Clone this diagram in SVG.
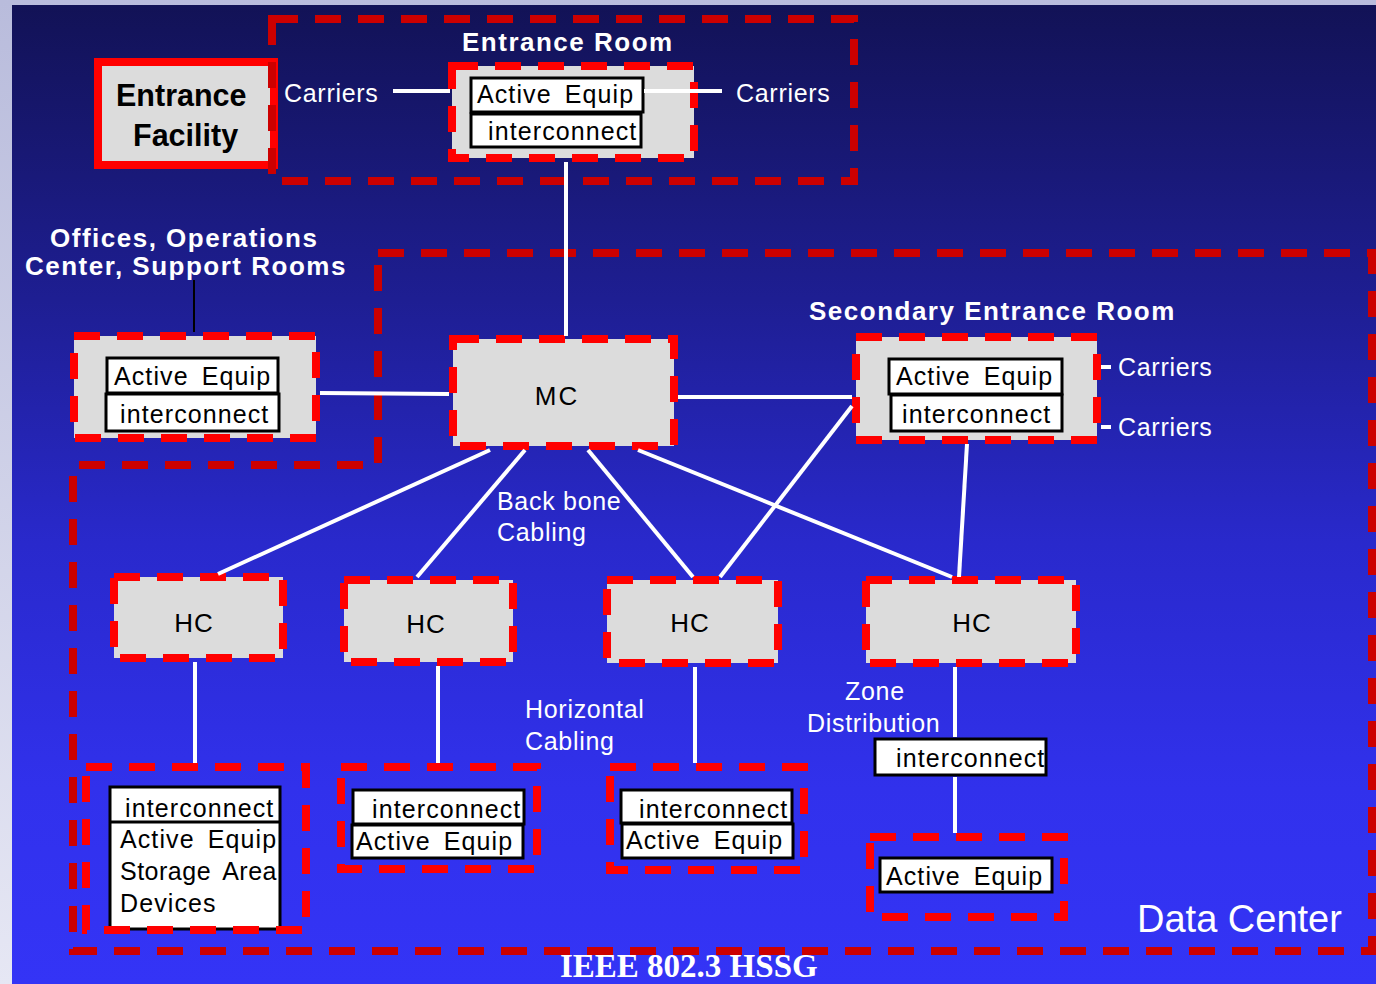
<svg xmlns="http://www.w3.org/2000/svg" width="1376" height="984" viewBox="0 0 1376 984">
<defs>
<linearGradient id="bg" x1="0" y1="0" x2="0" y2="1">
<stop offset="0" stop-color="#121256"/>
<stop offset="0.3" stop-color="#1e1e92"/>
<stop offset="0.55" stop-color="#2929cc"/>
<stop offset="0.8" stop-color="#3131ec"/>
<stop offset="1" stop-color="#3434f6"/>
</linearGradient>
<linearGradient id="side" x1="0" y1="0" x2="0" y2="1">
<stop offset="0" stop-color="#b9bcdc"/>
<stop offset="1" stop-color="#e6e7f4"/>
</linearGradient>
<style>
.s{font-family:"Liberation Sans",Arial,sans-serif}
.w{fill:#fff;font-size:25px;letter-spacing:0.7px}
.wb{fill:#fff;font-size:26px;font-weight:bold;letter-spacing:1.5px}
.k{fill:#000;font-size:25px;letter-spacing:1.1px;word-spacing:5px}
.hc{fill:#000;font-size:26px;letter-spacing:1px;text-anchor:middle}
.grey{fill:#dcdcdc;stroke:#ff0000;stroke-width:8;stroke-dasharray:26 17}
.open{fill:none;stroke:#ff0000;stroke-width:8;stroke-dasharray:26 17}
.dark{fill:none;stroke:#cc0000;stroke-width:8;stroke-dasharray:26 17}
.box{fill:#fff;stroke:#000;stroke-width:3}
.ln{stroke:#fff;stroke-width:4;fill:none}
</style>
</defs>
<rect x="0" y="0" width="1376" height="984" fill="url(#side)"/>
<rect x="12" y="5" width="1364" height="979" fill="url(#bg)"/>

<g id="data-center">
<path class="dark" d="M378 253 L1372 253 L1372 951 L73 951 L73 465 L378 465 Z"/>
<text class="s" x="1137" y="932" fill="#fff" font-size="38">Data Center</text>
</g>

<g id="entrance-facility">
<rect x="98" y="62" width="176" height="103" fill="#dcdcdc" stroke="#ff0000" stroke-width="8"/>
<text class="s" x="116" y="106" font-size="30.5" font-weight="bold" fill="#000">Entrance</text>
<text class="s" x="133" y="146" font-size="30.5" font-weight="bold" fill="#000">Facility</text>
</g>

<g id="entrance-room">
<rect class="dark" x="272" y="19" width="582" height="162"/>
<text class="s wb" x="462" y="51">Entrance Room</text>
<text class="s w" x="284" y="102">Carriers</text>
<text class="s w" x="736" y="102">Carriers</text>
<rect class="grey" x="452" y="66" width="242" height="92"/>
<rect class="box" x="471" y="78" width="172" height="34"/>
<rect class="box" x="471" y="114" width="170" height="33"/>
<text class="s k" x="477" y="103">Active Equip</text>
<text class="s k" x="488" y="140">interconnect</text>
</g>

<g id="offices">
<text class="s wb" x="50" y="247">Offices, Operations</text>
<text class="s wb" x="25" y="275">Center, Support Rooms</text>
<rect class="grey" x="74" y="336" width="242" height="102"/>
<rect class="box" x="107" y="358" width="171" height="35"/>
<rect class="box" x="106" y="394" width="173" height="37"/>
<text class="s k" x="114" y="385">Active Equip</text>
<text class="s k" x="120" y="423">interconnect</text>
</g>

<g id="mc">
<rect class="grey" x="453" y="339" width="221" height="107"/>
<text class="s hc" x="557" y="405" style="letter-spacing:2px">MC</text>
</g>

<g id="secondary-entrance-room">
<text class="s wb" x="809" y="320">Secondary Entrance Room</text>
<rect class="grey" x="856" y="337" width="241" height="103"/>
<rect class="box" x="889" y="359" width="173" height="35"/>
<rect class="box" x="891" y="395" width="171" height="36"/>
<text class="s k" x="896" y="385">Active Equip</text>
<text class="s k" x="902" y="423">interconnect</text>
<text class="s w" x="1118" y="376">Carriers</text>
<text class="s w" x="1118" y="436">Carriers</text>
</g>

<g id="hc1">
<rect class="grey" x="114" y="577" width="169" height="81"/>
<text class="s hc" x="194" y="632">HC</text>
</g>
<g id="hc2">
<rect class="grey" x="344" y="580" width="169" height="82"/>
<text class="s hc" x="426" y="633">HC</text>
</g>
<g id="hc3">
<rect class="grey" x="607" y="580" width="171" height="83"/>
<text class="s hc" x="690" y="632">HC</text>
</g>
<g id="hc4">
<rect class="grey" x="866" y="580" width="210" height="83"/>
<text class="s hc" x="972" y="632">HC</text>
</g>

<g id="labels">
<text class="s w" x="497" y="510">Back bone</text>
<text class="s w" x="497" y="541">Cabling</text>
<text class="s w" x="525" y="718">Horizontal</text>
<text class="s w" x="525" y="750">Cabling</text>
<text class="s w" x="845" y="700">Zone</text>
<text class="s w" x="807" y="732">Distribution</text>
</g>

<g id="zone-interconnect">
<rect class="box" x="875" y="739" width="171" height="36"/>
<text class="s k" x="896" y="767">interconnect</text>
</g>

<g id="area1">
<rect class="box" x="110" y="787" width="170" height="142"/>
<line x1="110" y1="822" x2="280" y2="822" stroke="#000" stroke-width="3"/>
<text class="s k" x="125" y="817">interconnect</text>
<text class="s k" x="120" y="848">Active Equip</text>
<text class="s k" x="120" y="880" style="letter-spacing:0.5px">Storage Area</text>
<text class="s k" x="120" y="912">Devices</text>
<rect class="open" x="86" y="767" width="220" height="163"/>
</g>

<g id="area2">
<rect class="open" x="341" y="767" width="196" height="102"/>
<rect class="box" x="353" y="790" width="171" height="34"/>
<rect class="box" x="352" y="825" width="171" height="33"/>
<text class="s k" x="372" y="818">interconnect</text>
<text class="s k" x="356" y="850">Active Equip</text>
</g>

<g id="area3">
<rect class="open" x="610" y="767" width="194" height="103"/>
<rect class="box" x="621" y="790" width="171" height="33"/>
<rect class="box" x="622" y="824" width="171" height="34"/>
<text class="s k" x="639" y="818">interconnect</text>
<text class="s k" x="626" y="849">Active Equip</text>
</g>

<g id="area4">
<rect class="open" x="870" y="837" width="194" height="80"/>
<rect class="box" x="880" y="858" width="172" height="34"/>
<text class="s k" x="886" y="885">Active Equip</text>
</g>

<g id="connectors">
<line class="ln" x1="393" y1="91" x2="450" y2="91"/>
<line class="ln" x1="644" y1="91" x2="722" y2="91"/>
<line class="ln" x1="566" y1="162" x2="566" y2="336" stroke-width="5"/>
<line x1="194" y1="280" x2="194" y2="332" stroke="#000" stroke-width="2"/>
<line class="ln" x1="320" y1="393" x2="449" y2="394" stroke-width="3"/>
<line class="ln" x1="678" y1="397" x2="852" y2="397" stroke-width="6"/>
<line class="ln" x1="490" y1="450" x2="218" y2="574"/>
<line class="ln" x1="525" y1="450" x2="417" y2="577"/>
<line class="ln" x1="588" y1="450" x2="693" y2="577"/>
<line class="ln" x1="638" y1="450" x2="952" y2="577"/>
<line class="ln" x1="852" y1="406" x2="720" y2="577"/>
<line class="ln" x1="967" y1="444" x2="959" y2="577"/>
<line class="ln" x1="1101" y1="367" x2="1111" y2="367"/>
<line class="ln" x1="1101" y1="427" x2="1111" y2="427"/>
<line class="ln" x1="195" y1="662" x2="195" y2="763" stroke-width="5"/>
<line class="ln" x1="438" y1="666" x2="438" y2="763" stroke-width="5"/>
<line class="ln" x1="695" y1="667" x2="695" y2="763" stroke-width="5"/>
<line class="ln" x1="955" y1="667" x2="955" y2="737" stroke-width="5"/>
<line class="ln" x1="955" y1="777" x2="955" y2="833" stroke-width="5"/>
</g>

<text x="560" y="977" fill="#fff" font-size="33" font-weight="bold" style="font-family:'Liberation Serif','Times New Roman',serif">IEEE 802.3 HSSG</text>
</svg>
